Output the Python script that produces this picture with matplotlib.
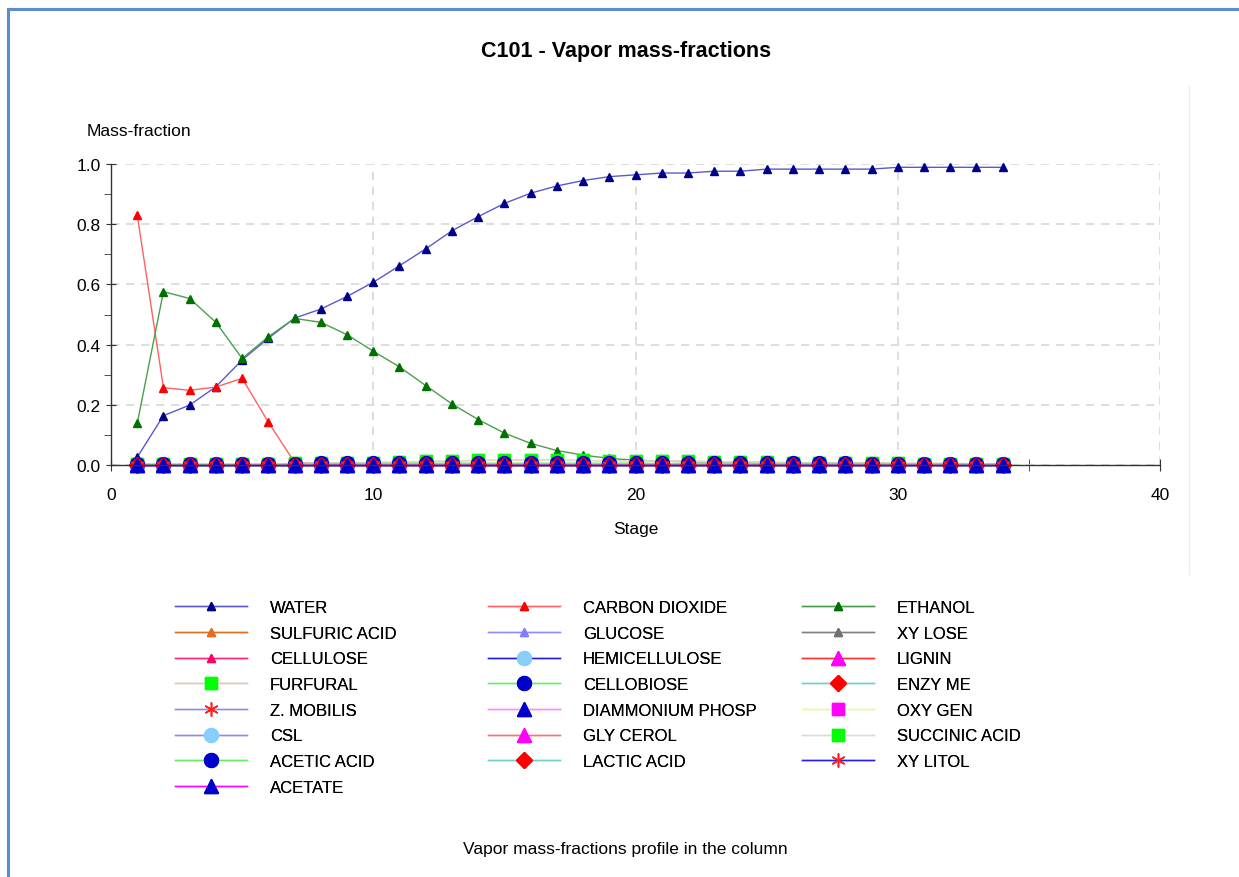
import matplotlib
matplotlib.use("Agg")
import matplotlib.pyplot as plt
from matplotlib.lines import Line2D
from matplotlib.ticker import MultipleLocator, FormatStrFormatter

plt.rcParams['font.family'] = ['Liberation Sans', 'DejaVu Sans']

W, H = 1239, 878
def fx(x): return x / W
def fy(y): return 1 - y / H

stages = list(range(1, 35))

water = [0.026, 0.164, 0.199, 0.260, 0.349, 0.421, 0.488, 0.518, 0.560, 0.607,
         0.662, 0.718, 0.778, 0.825, 0.869, 0.903, 0.927, 0.945, 0.958, 0.964,
         0.970, 0.970, 0.976, 0.976, 0.983, 0.983, 0.983, 0.983, 0.983, 0.989,
         0.989, 0.989, 0.989, 0.989]
carbon_dioxide = [0.831, 0.257, 0.248, 0.259, 0.288, 0.142, 0.009, 0.004, 0.003, 0.003,
                  0.003, 0.003, 0.003, 0.003, 0.003, 0.003, 0.002, 0.002, 0.002, 0.002,
                  0.002, 0.002, 0.002, 0.002, 0.002, 0.002, 0.002, 0.002, 0.002, 0.002,
                  0.002, 0.002, 0.002, 0.002]
ethanol = [0.138, 0.576, 0.553, 0.474, 0.354, 0.426, 0.487, 0.474, 0.433, 0.378,
           0.326, 0.264, 0.203, 0.151, 0.106, 0.072, 0.048, 0.033, 0.022, 0.016,
           0.013, 0.011, 0.010, 0.009, 0.008, 0.007, 0.007, 0.006, 0.006, 0.005,
           0.005, 0.005, 0.004, 0.004]
furfural = [0.004, 0.004, 0.004, 0.004, 0.004, 0.004, 0.005, 0.006, 0.007, 0.008,
            0.010, 0.012, 0.013, 0.015, 0.016, 0.016, 0.016, 0.015, 0.014, 0.014,
            0.013, 0.013, 0.011, 0.010, 0.009, 0.008, 0.006, 0.006, 0.005, 0.005,
            0.004, 0.004, 0.004, 0.004]
acetic_acid = [0.002, 0.002, 0.002, 0.002, 0.002, 0.002, 0.004, 0.005, 0.005, 0.005,
               0.006, 0.006, 0.006, 0.006, 0.006, 0.006, 0.006, 0.006, 0.006, 0.006,
               0.005, 0.005, 0.005, 0.005, 0.005, 0.005, 0.005, 0.005, 0.004, 0.004,
               0.004, 0.004, 0.004, 0.004]
zero = [0.0] * 34

# name, values, line colour, marker, marker colour, marker size (row-major legend order)
series = [
    ("WATER", water, "#5a5ad0", "^", "#00008b", 5.5),
    ("CARBON DIOXIDE", carbon_dioxide, "#ff6060", "^", "#ff0000", 5.5),
    ("ETHANOL", ethanol, "#4aa04a", "^", "#007000", 5.5),
    ("SULFURIC ACID", zero, "#e07020", "^", "#e07020", 5.5),
    ("GLUCOSE", zero, "#8c8cff", "^", "#8080ff", 5.5),
    ("XY LOSE", zero, "#808080", "^", "#707070", 5.5),
    ("CELLULOSE", zero, "#ff2080", "^", "#ff0070", 5.5),
    ("HEMICELLULOSE", zero, "#2020d8", "o", "#87cefa", 10),
    ("LIGNIN", zero, "#ff3030", "^", "#ff00ff", 10),
    ("FURFURAL", furfural, "#dcc8b8", "s", "#00ff00", 9),
    ("CELLOBIOSE", zero, "#66ee66", "o", "#0000cc", 10),
    ("ENZY ME", zero, "#70d0c8", "D", "#ff0000", 8),
    ("Z. MOBILIS", zero, "#8c8cee", (6, 2, 0), "#ff2020", 10),
    ("DIAMMONIUM PHOSP", zero, "#ff88ff", "^", "#0000cc", 10),
    ("OXY GEN", zero, "#ddff99", "s", "#ff00ff", 9),
    ("CSL", zero, "#8c8cee", "o", "#87cefa", 10),
    ("GLY CEROL", zero, "#ff7070", "^", "#ff00ff", 10),
    ("SUCCINIC ACID", furfural, "#e6d8c8", "s", "#00ff00", 9),
    ("ACETIC ACID", acetic_acid, "#66ee66", "o", "#0000cc", 10),
    ("LACTIC ACID", zero, "#70d0c8", "D", "#ff0000", 8),
    ("XY LITOL", zero, "#2020ee", (6, 2, 0), "#ff2020", 10),
    ("ACETATE", zero, "#ff00ff", "^", "#0000cc", 10),
]

fig = plt.figure(figsize=(W / 100, H / 100), dpi=100)
ax = fig.add_axes([fx(111), fy(466), fx(1160) - fx(111), fy(165) - fy(466)])

handles = {}
for name, vals, lc, mk, mc, ms in series:
    h, = ax.plot(stages, vals, color=lc, lw=1.0, marker=mk, markersize=ms,
                 markerfacecolor=mc, markeredgecolor=mc, markeredgewidth=1.0,
                 clip_on=False, label=name)
    handles[name] = h

ax.set_xlim(0, 40)
ax.set_ylim(0, 1.0)
ax.xaxis.set_major_locator(MultipleLocator(10))
ax.xaxis.set_minor_locator(MultipleLocator(5))
ax.yaxis.set_major_locator(MultipleLocator(0.2))
ax.yaxis.set_minor_locator(MultipleLocator(0.1))
ax.yaxis.set_major_formatter(FormatStrFormatter("%.1f"))
ax.tick_params(axis='both', which='both', colors='#333333', labelcolor='black', labelsize=12.5)
ax.tick_params(axis='x', which='both', direction='inout', length=9, pad=11)
ax.tick_params(axis='y', which='major', direction='inout', length=7, pad=4)
ax.tick_params(axis='y', which='minor', direction='out', length=5)
for s in ('top', 'right'):
    ax.spines[s].set_visible(False)
for s in ('left', 'bottom'):
    ax.spines[s].set_color('#333333')
    ax.spines[s].set_linewidth(1.0)
ax.grid(True, which='major', color='#d8d8d8', linestyle=(0, (5, 4)), linewidth=1.2)
ax.set_axisbelow(True)

fig.text(fx(626), fy(52), "C101 - Vapor mass-fractions", ha='center', va='center',
         fontsize=15.5, fontweight='bold')
fig.text(fx(87), fy(131), "Mass-fraction", ha='left', va='center', fontsize=12.5)
fig.text(fx(636), fy(530), "Stage", ha='center', va='center', fontsize=12.5)
fig.text(fx(625), fy(850), "Vapor mass-fractions profile in the column",
         ha='center', va='center', fontsize=12.5)

# legend: three columns
cols = [
    ["WATER", "SULFURIC ACID", "CELLULOSE", "FURFURAL", "Z. MOBILIS", "CSL", "ACETIC ACID", "ACETATE"],
    ["CARBON DIOXIDE", "GLUCOSE", "HEMICELLULOSE", "CELLOBIOSE", "DIAMMONIUM PHOSP", "GLY CEROL", "LACTIC ACID"],
    ["ETHANOL", "XY LOSE", "LIGNIN", "ENZY ME", "OXY GEN", "SUCCINIC ACID", "XY LITOL"],
]
col_x = [175, 488, 802]
for names, x0 in zip(cols, col_x):
    leg = fig.legend([handles[n] for n in names], names, loc='upper left',
                     bbox_to_anchor=(fx(x0), fy(601)), frameon=False, fontsize=12,
                     handlelength=4.3, handletextpad=1.4, labelspacing=0.64,
                     borderpad=0, borderaxespad=0, numpoints=1)
    fig.add_artist(leg)

# window border decorations
fig.add_artist(Line2D([fx(8), fx(1239)], [fy(10), fy(10)], color='#5b8bd5', lw=2.2))
fig.add_artist(Line2D([fx(8), fx(8)], [fy(10), fy(878)], color='#5b8bd5', lw=2.2))
fig.add_artist(Line2D([fx(1189), fx(1189)], [fy(87), fy(575)], color='#e6edf5', lw=1.0))

fig.savefig("out.png", dpi=100)
